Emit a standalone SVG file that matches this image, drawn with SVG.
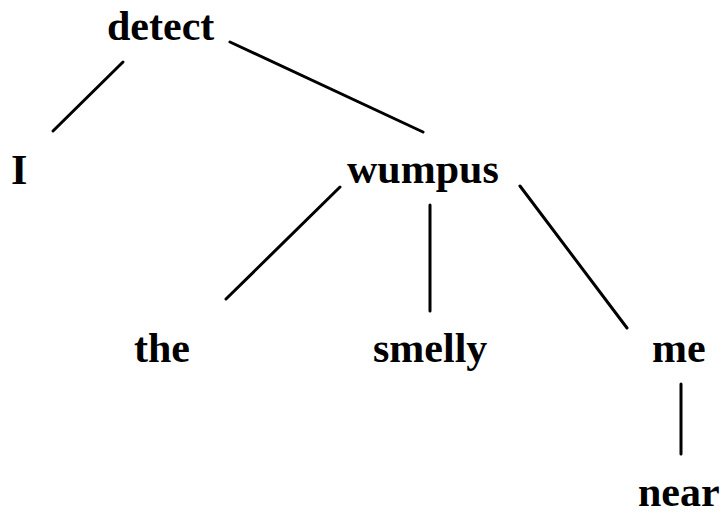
<svg xmlns="http://www.w3.org/2000/svg" width="725" height="514" viewBox="0 0 725 514">
<style>
text{font-family:"Liberation Serif","Times New Roman",serif;font-weight:bold;font-size:42px;fill:#000}
line{stroke:#000;stroke-width:3;stroke-linecap:round}
</style>
<rect width="725" height="514" fill="#fff"/>
<g id="connectors">
<line x1="123" y1="62" x2="53" y2="131"/>
<line x1="230" y1="42" x2="423" y2="132"/>
<line x1="340" y1="187" x2="226" y2="299"/>
<line x1="430" y1="205" x2="430" y2="311"/>
<line x1="520" y1="186" x2="627" y2="328"/>
<line x1="681" y1="384" x2="681" y2="454"/>
</g>
<g id="detect"><text x="107" y="40">detect</text></g>
<g id="I"><text x="11" y="184">I</text></g>
<g id="wumpus"><text x="347" y="183">wumpus</text></g>
<g id="the"><text x="134" y="362">the</text></g>
<g id="smelly"><text x="373" y="362">smelly</text></g>
<g id="me"><text x="652" y="362">me</text></g>
<g id="near"><text x="638" y="506">near</text></g>
</svg>
